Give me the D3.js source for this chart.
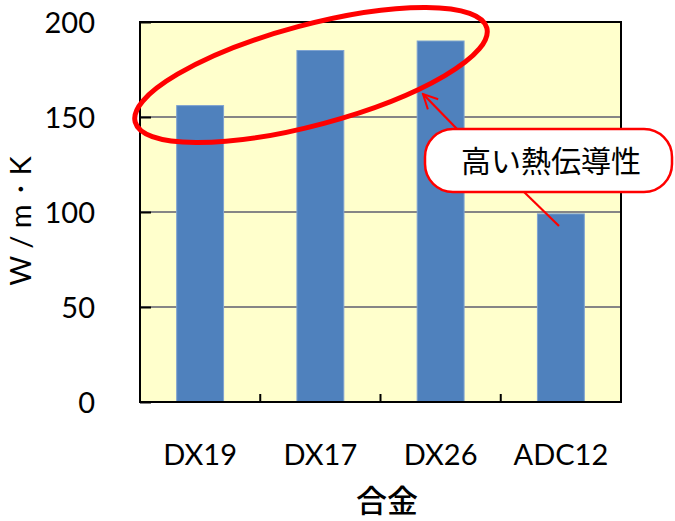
<!DOCTYPE html>
<html>
<head>
<meta charset="utf-8">
<script src="https://cdn.jsdelivr.net/npm/d3@7"></script>
<style>
  html, body { margin: 0; padding: 0; background: #fff; }
  svg { display: block; }
  text { font-family: Lato, "Noto Sans", sans-serif; fill: #000; }
  .cjk { font-family: "Noto Sans CJK JP", "Noto Sans CJK SC", sans-serif; }
</style>
</head>
<body>
<svg id="chart" width="675" height="521"></svg>
<script>
// Thermal conductivity of die-casting alloys
const alloys = ["DX19", "DX17", "DX26", "ADC12"];
const conductivity = [156, 185, 190, 99];
const yTicks = [0, 50, 100, 150, 200];

const W = 675, H = 521;
const margin = { top: 22, right: 54, bottom: 119, left: 140 };
const plotW = W - margin.left - margin.right;
const plotH = H - margin.top - margin.bottom;

const svg = d3.select("#chart");
const g = svg.append("g").attr("transform", `translate(${margin.left},${margin.top})`);

const x = d3.scaleBand().domain(alloys).range([0, plotW]).paddingInner(0.61).paddingOuter(0.305);
const y = d3.scaleLinear().domain([0, 200]).range([plotH, 0]);

// plot background
g.append("rect").attr("width", plotW).attr("height", plotH).attr("fill", "#FFFFCC");

// horizontal gridlines
g.selectAll(".grid").data(yTicks.filter(t => t > 0 && t < 200)).join("line")
  .attr("x1", 0).attr("x2", plotW)
  .attr("y1", d => y(d)).attr("y2", d => y(d))
  .attr("stroke", "#868686").attr("stroke-width", 2);

// bars
g.selectAll(".bar").data(alloys).join("rect")
  .attr("x", d => x(d))
  .attr("y", (d, i) => y(conductivity[i]))
  .attr("width", x.bandwidth())
  .attr("height", (d, i) => plotH - y(conductivity[i]))
  .attr("fill", "#4F81BD")
  .attr("stroke", "#7FA3D0").attr("stroke-width", 1);

// frame
g.append("rect").attr("width", plotW).attr("height", plotH)
  .attr("fill", "none").attr("stroke", "#000").attr("stroke-width", 2);

// y axis: inner ticks, labels on the left
const yAxis = d3.axisLeft(y).tickValues(yTicks).tickSize(-11).tickPadding(45).tickFormat(d3.format("d"));
const ya = g.append("g").call(yAxis);
ya.select(".domain").remove();
ya.selectAll(".tick line").attr("stroke", "#000").attr("stroke-width", 2);
ya.selectAll(".tick text").attr("font-size", 29).attr("dy", "0.36em")
  .style("font-family", "Lato, sans-serif");

// x axis: ticks between categories, pointing inward
const bounds = alloys.slice(1).map(d => x(d) - x.step() * x.paddingInner() / 2);
g.selectAll(".xtick").data(bounds).join("line")
  .attr("x1", d => d).attr("x2", d => d)
  .attr("y1", plotH).attr("y2", plotH - 8)
  .attr("stroke", "#000").attr("stroke-width", 2);

g.selectAll(".xlabel").data(alloys).join("text")
  .attr("x", d => x(d) + x.bandwidth() / 2)
  .attr("y", plotH + 63)
  .attr("text-anchor", "middle")
  .attr("font-size", 29)
  .text(d => d);

// axis titles
svg.append("text")
  .attr("transform", "translate(31,221) rotate(-90)")
  .attr("text-anchor", "middle")
  .attr("font-size", 29)
  .text("W / m・K");

svg.append("text").attr("class", "cjk")
  .attr("x", 387).attr("y", 512)
  .attr("text-anchor", "middle")
  .attr("font-size", 31).attr("font-weight", 500)
  .text("合金");

// highlight ellipse around the high-conductivity alloys
svg.append("ellipse")
  .attr("transform", "translate(311,75) rotate(-15)")
  .attr("rx", 182).attr("ry", 50)
  .attr("fill", "none").attr("stroke", "#FF0000").attr("stroke-width", 5);

// callout
const defs = svg.append("defs");
defs.append("marker").attr("id", "openArrow")
  .attr("viewBox", "0 0 20 20").attr("refX", 18).attr("refY", 10)
  .attr("markerWidth", 18).attr("markerHeight", 18).attr("markerUnits", "userSpaceOnUse")
  .attr("orient", "auto")
  .append("path").attr("d", "M2,2 L18,10 L2,18")
  .attr("fill", "none").attr("stroke", "#FF0000").attr("stroke-width", 2.2);

svg.append("line")
  .attr("x1", 458).attr("y1", 130).attr("x2", 423).attr("y2", 94)
  .attr("stroke", "#FF0000").attr("stroke-width", 2.2)
  .attr("marker-end", "url(#openArrow)");

svg.append("line")
  .attr("x1", 523).attr("y1", 191)
  .attr("x2", 559).attr("y2", 226)
  .attr("stroke", "#FF0000").attr("stroke-width", 2.2);

svg.append("rect")
  .attr("x", 425).attr("y", 129).attr("width", 247).attr("height", 63)
  .attr("rx", 28).attr("ry", 28)
  .attr("fill", "#fff").attr("stroke", "#FF0000").attr("stroke-width", 2.5);

svg.append("text").attr("class", "cjk")
  .attr("x", 551).attr("y", 172)
  .attr("text-anchor", "middle")
  .attr("font-size", 30)
  .text("高い熱伝導性");
</script>
</body>
</html>
